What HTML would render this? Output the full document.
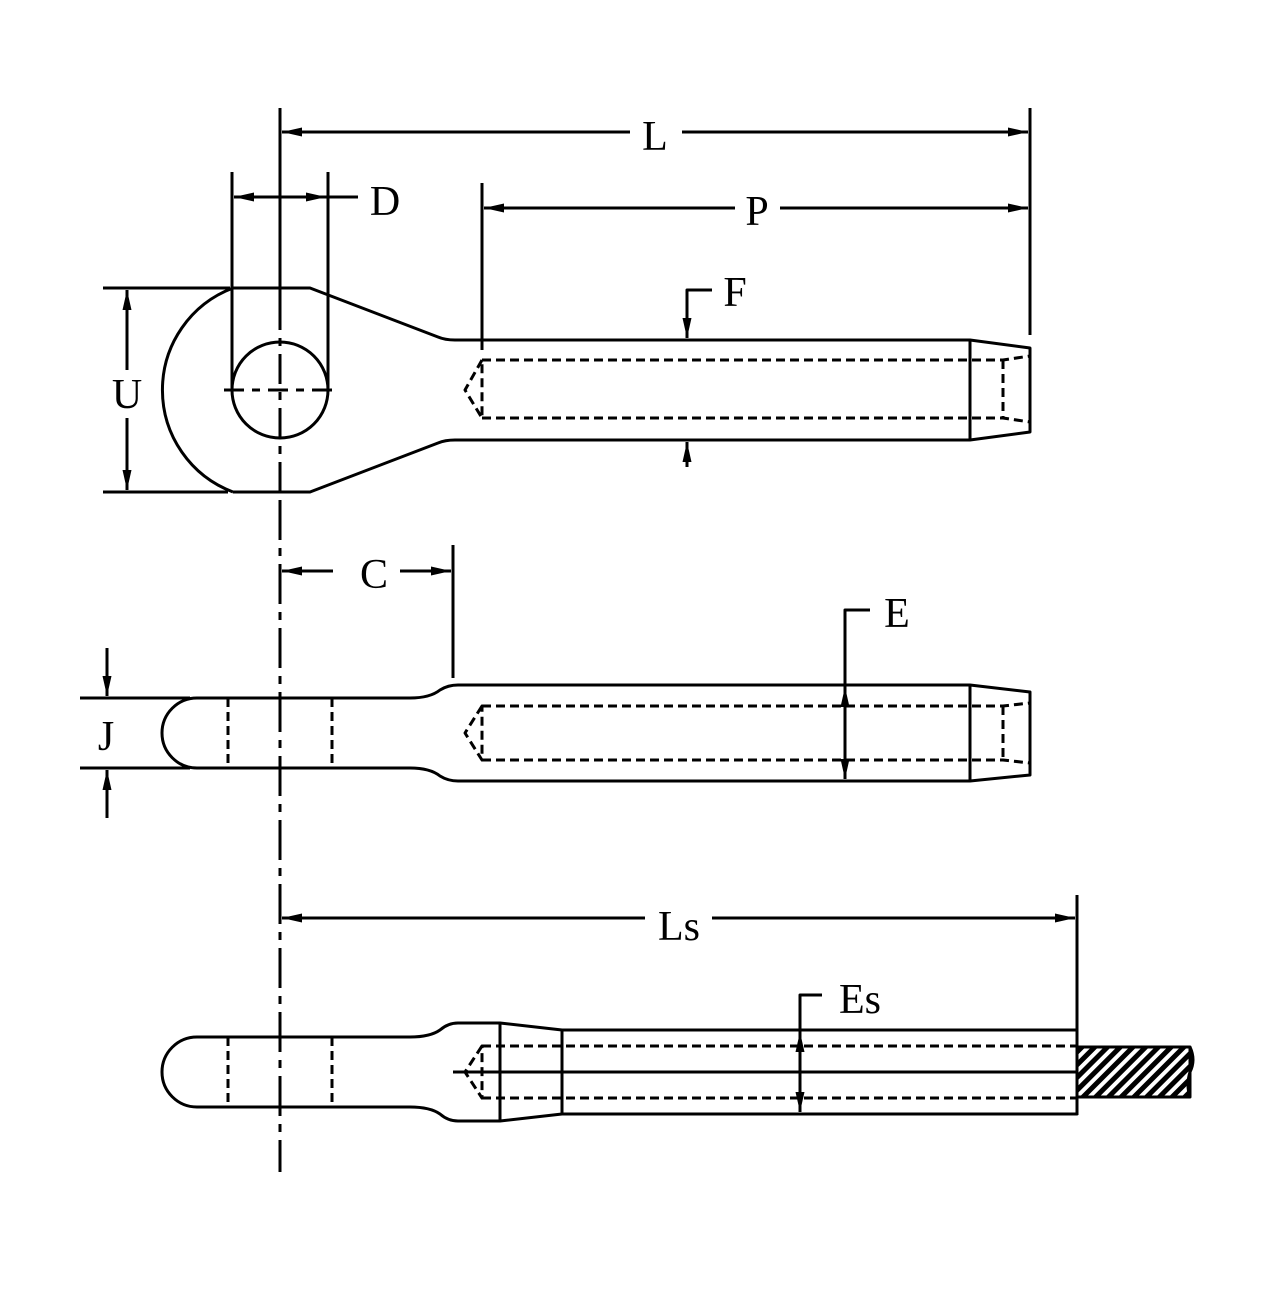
<!DOCTYPE html>
<html><head><meta charset="utf-8"><style>html,body{margin:0;padding:0;background:#fff}svg{display:block}</style></head>
<body>
<svg width="1267" height="1292" viewBox="0 0 1267 1292" xmlns="http://www.w3.org/2000/svg">
<defs>
<marker id="b" viewBox="0 0 20 10" refX="20" refY="5" markerWidth="22" markerHeight="10" markerUnits="userSpaceOnUse" orient="auto-start-reverse"><path d="M0,0.5 L20,5 L0,9.5 z" fill="#000"/></marker>
<pattern id="h" width="9" height="9" patternUnits="userSpaceOnUse" patternTransform="rotate(45)"><rect width="9" height="9" fill="#fff"/><rect width="5" height="9" fill="#000"/></pattern>
</defs>
<g fill="none" stroke="#000" stroke-width="3" stroke-linejoin="round">
<!-- centerline -->
<line x1="280" y1="108" x2="280" y2="300"/>
<line x1="280" y1="300" x2="280" y2="500" stroke-dasharray="30,8,8,8"/>
<line x1="280" y1="500" x2="280" y2="1172" stroke-dasharray="40,8,8,8"/>
<!-- TOP VIEW -->
<path d="M233,288 A109,109 0 0 0 233,492"/>
<path d="M233,288 L310,288 L438,337 Q445,340 455,340 L970,340 L1030,348 L1030,432 L970,440 L455,440 Q445,440 438,443 L310,492 L233,492"/>
<line x1="970" y1="340" x2="970" y2="440"/>
<circle cx="280" cy="390" r="48"/>
<line x1="224" y1="390" x2="336" y2="390" stroke-dasharray="20,8,8,8"/>
<g stroke-dasharray="9,5">
<path d="M482,360 L1003,360 L1030,356"/><path d="M482,418 L1003,418 L1030,422"/>
<path d="M482,360 L465,390 L482,418 Z"/>
<line x1="1003" y1="360" x2="1003" y2="418"/>
</g>
<!-- U -->
<line x1="103" y1="288" x2="230" y2="288"/><line x1="103" y1="492" x2="228" y2="492"/>
<line x1="127" y1="290" x2="127" y2="370" marker-start="url(#b)"/><line x1="127" y1="418" x2="127" y2="490" marker-end="url(#b)"/>
<!-- D -->
<line x1="232" y1="172" x2="232" y2="388"/><line x1="328" y1="172" x2="328" y2="388"/>
<line x1="234" y1="197" x2="280" y2="197" marker-start="url(#b)"/><line x1="280" y1="197" x2="358" y2="197"/>
<line x1="300" y1="197" x2="326" y2="197" marker-end="url(#b)"/>
<!-- L -->
<line x1="1030" y1="108" x2="1030" y2="335"/>
<line x1="282" y1="132" x2="630" y2="132" marker-start="url(#b)"/><line x1="682" y1="132" x2="1028" y2="132" marker-end="url(#b)"/>
<!-- P -->
<line x1="482" y1="183" x2="482" y2="350"/>
<line x1="484" y1="208" x2="735" y2="208" marker-start="url(#b)"/><line x1="780" y1="208" x2="1028" y2="208" marker-end="url(#b)"/>
<!-- F -->
<path d="M712,290 L687,290 L687,338" marker-end="url(#b)"/>
<line x1="687" y1="467" x2="687" y2="442" marker-end="url(#b)"/>
<!-- MIDDLE VIEW -->
<path d="M197,698 L410,698 Q430,698 440,690 Q448,685 458,685 L970,685 L1030,692 L1030,775 L970,781 L458,781 Q448,781 440,776 Q430,768 410,768 L197,768 A35,35 0 0 1 197,698"/>
<line x1="970" y1="685" x2="970" y2="781"/>
<g stroke-dasharray="9,5">
<line x1="228" y1="698" x2="228" y2="768"/><line x1="332" y1="698" x2="332" y2="768"/>
<path d="M482,706 L1003,706 L1030,703"/><path d="M482,760 L1003,760 L1030,763"/>
<path d="M482,706 L465,733 L482,760 Z"/>
<line x1="1003" y1="706" x2="1003" y2="760"/>
</g>
<!-- C -->
<line x1="453" y1="545" x2="453" y2="678"/>
<line x1="282" y1="571" x2="333" y2="571" marker-start="url(#b)"/><line x1="400" y1="571" x2="451" y2="571" marker-end="url(#b)"/>
<!-- E -->
<path d="M870,610 L845,610 L845,687"/>
<line x1="845" y1="700" x2="845" y2="687" marker-end="url(#b)"/>
<line x1="845" y1="690" x2="845" y2="779" marker-end="url(#b)"/>
<!-- J -->
<line x1="80" y1="698" x2="190" y2="698"/><line x1="80" y1="768" x2="190" y2="768"/>
<line x1="107" y1="648" x2="107" y2="696" marker-end="url(#b)"/>
<line x1="107" y1="818" x2="107" y2="770" marker-end="url(#b)"/>
<!-- BOTTOM VIEW -->
<path d="M197,1037 L410,1037 Q430,1037 440,1030 Q448,1023 458,1023 L500,1023 L562,1030 L1077,1030 L1077,1114 L562,1114 L500,1121 L458,1121 Q448,1121 440,1114 Q430,1107 410,1107 L197,1107 A35,35 0 0 1 197,1037"/>
<line x1="500" y1="1023" x2="500" y2="1121"/><line x1="562" y1="1030" x2="562" y2="1114"/>
<line x1="453" y1="1072" x2="1077" y2="1072"/>
<g stroke-dasharray="9,5">
<line x1="228" y1="1037" x2="228" y2="1107"/><line x1="332" y1="1037" x2="332" y2="1107"/>
<line x1="482" y1="1046" x2="1077" y2="1046"/><line x1="482" y1="1098" x2="1077" y2="1098"/>
<path d="M482,1046 L465,1072 L482,1098 Z"/>
</g>
<rect x="1077" y="1047" width="113" height="50" fill="url(#h)"/>
<path d="M1190,1047 Q1196,1060 1190,1072 Q1186,1085 1190,1097"/>
<!-- Ls -->
<line x1="1077" y1="895" x2="1077" y2="1115"/>
<line x1="282" y1="918" x2="645" y2="918" marker-start="url(#b)"/><line x1="712" y1="918" x2="1075" y2="918" marker-end="url(#b)"/>
<!-- Es -->
<path d="M822,995 L800,995 L800,1032"/>
<line x1="800" y1="1045" x2="800" y2="1032" marker-end="url(#b)"/>
<line x1="800" y1="1035" x2="800" y2="1112" marker-end="url(#b)"/>
</g>
<g font-family="Liberation Serif, serif" font-size="42" fill="#000" text-anchor="middle">
<text x="655" y="150">L</text>
<text x="385" y="215">D</text>
<text x="757" y="225">P</text>
<text x="735" y="306">F</text>
<text x="127" y="408">U</text>
<text x="374" y="588">C</text>
<text x="897" y="627">E</text>
<text x="106" y="750">J</text>
<text x="679" y="940">Ls</text>
<text x="860" y="1013">Es</text>
</g>
</svg>
</body></html>
